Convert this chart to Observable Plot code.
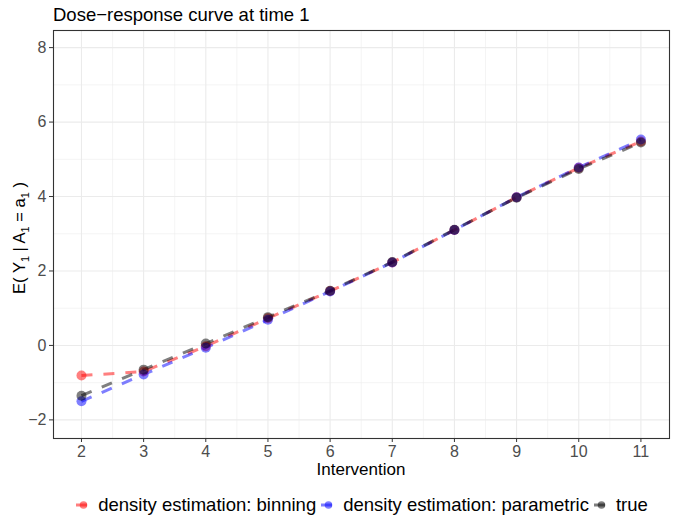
<!DOCTYPE html>
<html>
<head>
<meta charset="utf-8">
<script src="https://cdn.jsdelivr.net/npm/d3@7"></script>
<script src="https://cdn.jsdelivr.net/npm/@observablehq/plot@0.6"></script>
<style>
  body { margin: 0; background: #fff; font-family: "Liberation Sans", Arial, Helvetica, sans-serif; }
  #wrap { position: relative; width: 675px; height: 525px; overflow: hidden; }
  #title { position: absolute; left: 53px; top: 4px; font-size: 18.5px; line-height: normal; color: #000; white-space: nowrap; }
  #plot { position: absolute; left: 0; top: 28px; }
  #legend { position: absolute; left: 48px; top: 494px; width: 627px; display: flex; justify-content: center; align-items: center; font-size: 18.5px; line-height: normal; color: #000; white-space: nowrap; }
  .item { display: flex; align-items: center; margin-right: 4px; }
  .item:last-child { margin-right: 0; }
  .item svg { margin-right: 6px; }
</style>
</head>
<body>
<div id="wrap">
  <div id="title">Dose−response curve at time 1</div>
  <div id="plot"></div>
  <div id="legend"></div>
</div>
<script>
const interventions = [2, 3, 4, 5, 6, 7, 8, 9, 10, 11];
const binning    = [-0.81, -0.70, -0.02, 0.73, 1.46, 2.23, 3.10, 3.98, 4.77, 5.48];
const parametric = [-1.50, -0.78, -0.06, 0.69, 1.45, 2.23, 3.10, 3.98, 4.78, 5.53];
const truth      = [-1.35, -0.65, 0.05, 0.76, 1.47, 2.24, 3.11, 3.97, 4.74, 5.45];
const seriesNames = ["density estimation: binning", "density estimation: parametric", "true"];
const seriesColors = ["#ff0000", "#0000ff", "#000000"];
const xTicks = [2, 3, 4, 5, 6, 7, 8, 9, 10, 11];
const xMinor = [2.5, 3.5, 4.5, 5.5, 6.5, 7.5, 8.5, 9.5, 10.5];
const yTicks = [-2, 0, 2, 4, 6, 8];
const yMinor = [-1, 1, 3, 5, 7];

const seriesValues = [binning, parametric, truth];
const data = [];
seriesNames.forEach((s, i) => interventions.forEach((x, j) => data.push({series: s, x, y: seriesValues[i][j]})));

const W = 675, H = 457;
const mT = 2, mB = 47, mL = 53, mR = 6;
const dash = "11,11";

const plot = Plot.plot({
  width: W, height: H,
  marginLeft: mL, marginRight: mR, marginTop: mT, marginBottom: mB,
  style: {fontFamily: "'Liberation Sans', Arial, Helvetica, sans-serif", background: "#fff"},
  x: {domain: [1.55, 11.46]},
  y: {domain: [-2.5, 8.46]},
  color: {domain: seriesNames, range: seriesColors},
  marks: [
    Plot.ruleX(xMinor, {stroke: "#ebebeb", strokeWidth: 0.55}),
    Plot.ruleY(yMinor, {stroke: "#ebebeb", strokeWidth: 0.55}),
    Plot.ruleX(xTicks, {stroke: "#ebebeb", strokeWidth: 1.1}),
    Plot.ruleY(yTicks, {stroke: "#ebebeb", strokeWidth: 1.1}),
    Plot.line(data, {x: "x", y: "y", z: "series", stroke: "series", strokeOpacity: 0.5, strokeWidth: 3, strokeDasharray: dash, strokeLinecap: "butt"}),
    Plot.dot(data, {x: "x", y: "y", fill: "series", fillOpacity: 0.5, r: 5, stroke: null}),
    Plot.frame({stroke: "#333333", strokeWidth: 1.1}),
    Plot.axisX(xTicks, {tickSize: 4, tickPadding: 3, fontSize: 16, fill: "#4d4d4d", stroke: "#333333", label: null, tickFormat: d => String(d)}),
    Plot.axisY(yTicks, {tickSize: 4, tickPadding: 3, fontSize: 16, fill: "#4d4d4d", stroke: "#333333", label: null, tickFormat: d => d < 0 ? "\u2212" + Math.abs(d) : String(d)})
  ]
});
document.getElementById("plot").appendChild(plot);

const svg = d3.select(plot);
// x-axis title
svg.append("text")
  .attr("x", (mL + W - mR) / 2).attr("y", 447)
  .attr("text-anchor", "middle").attr("font-size", 17).attr("fill", "#000")
  .text("Intervention");

// y-axis title with subscripts
const yl = svg.append("text")
  .attr("transform", `translate(25, ${(mT + (H - mB)) / 2 + 4}) rotate(-90)`)
  .attr("text-anchor", "middle")
  .attr("font-size", 16.5)
  .attr("fill", "#000");
const parts = [["E( Y", false], ["1", true], [" | A", false], ["1", true], [" = a", false], ["1", true], [" )", false]];
let shifted = false;
parts.forEach(([t, sub]) => {
  const ts = yl.append("tspan").text(t);
  if (sub) { ts.attr("font-size", 11).attr("dy", 4); shifted = true; }
  else if (shifted) { ts.attr("dy", -4); shifted = false; }
});

// legend
const legend = d3.select("#legend");
seriesNames.forEach((s, i) => {
  const item = legend.append("div").attr("class", "item");
  const k = item.append("svg").attr("width", 17).attr("height", 18);
  k.append("line").attr("x1", 1).attr("x2", 12).attr("y1", 9).attr("y2", 9)
    .attr("stroke", seriesColors[i]).attr("stroke-opacity", 0.5).attr("stroke-width", 3);
  k.append("circle").attr("cx", 8.5).attr("cy", 9).attr("r", 3.8).attr("fill", seriesColors[i]).attr("fill-opacity", 0.5);
  item.append("span").text(s);
});
</script>
</body>
</html>
